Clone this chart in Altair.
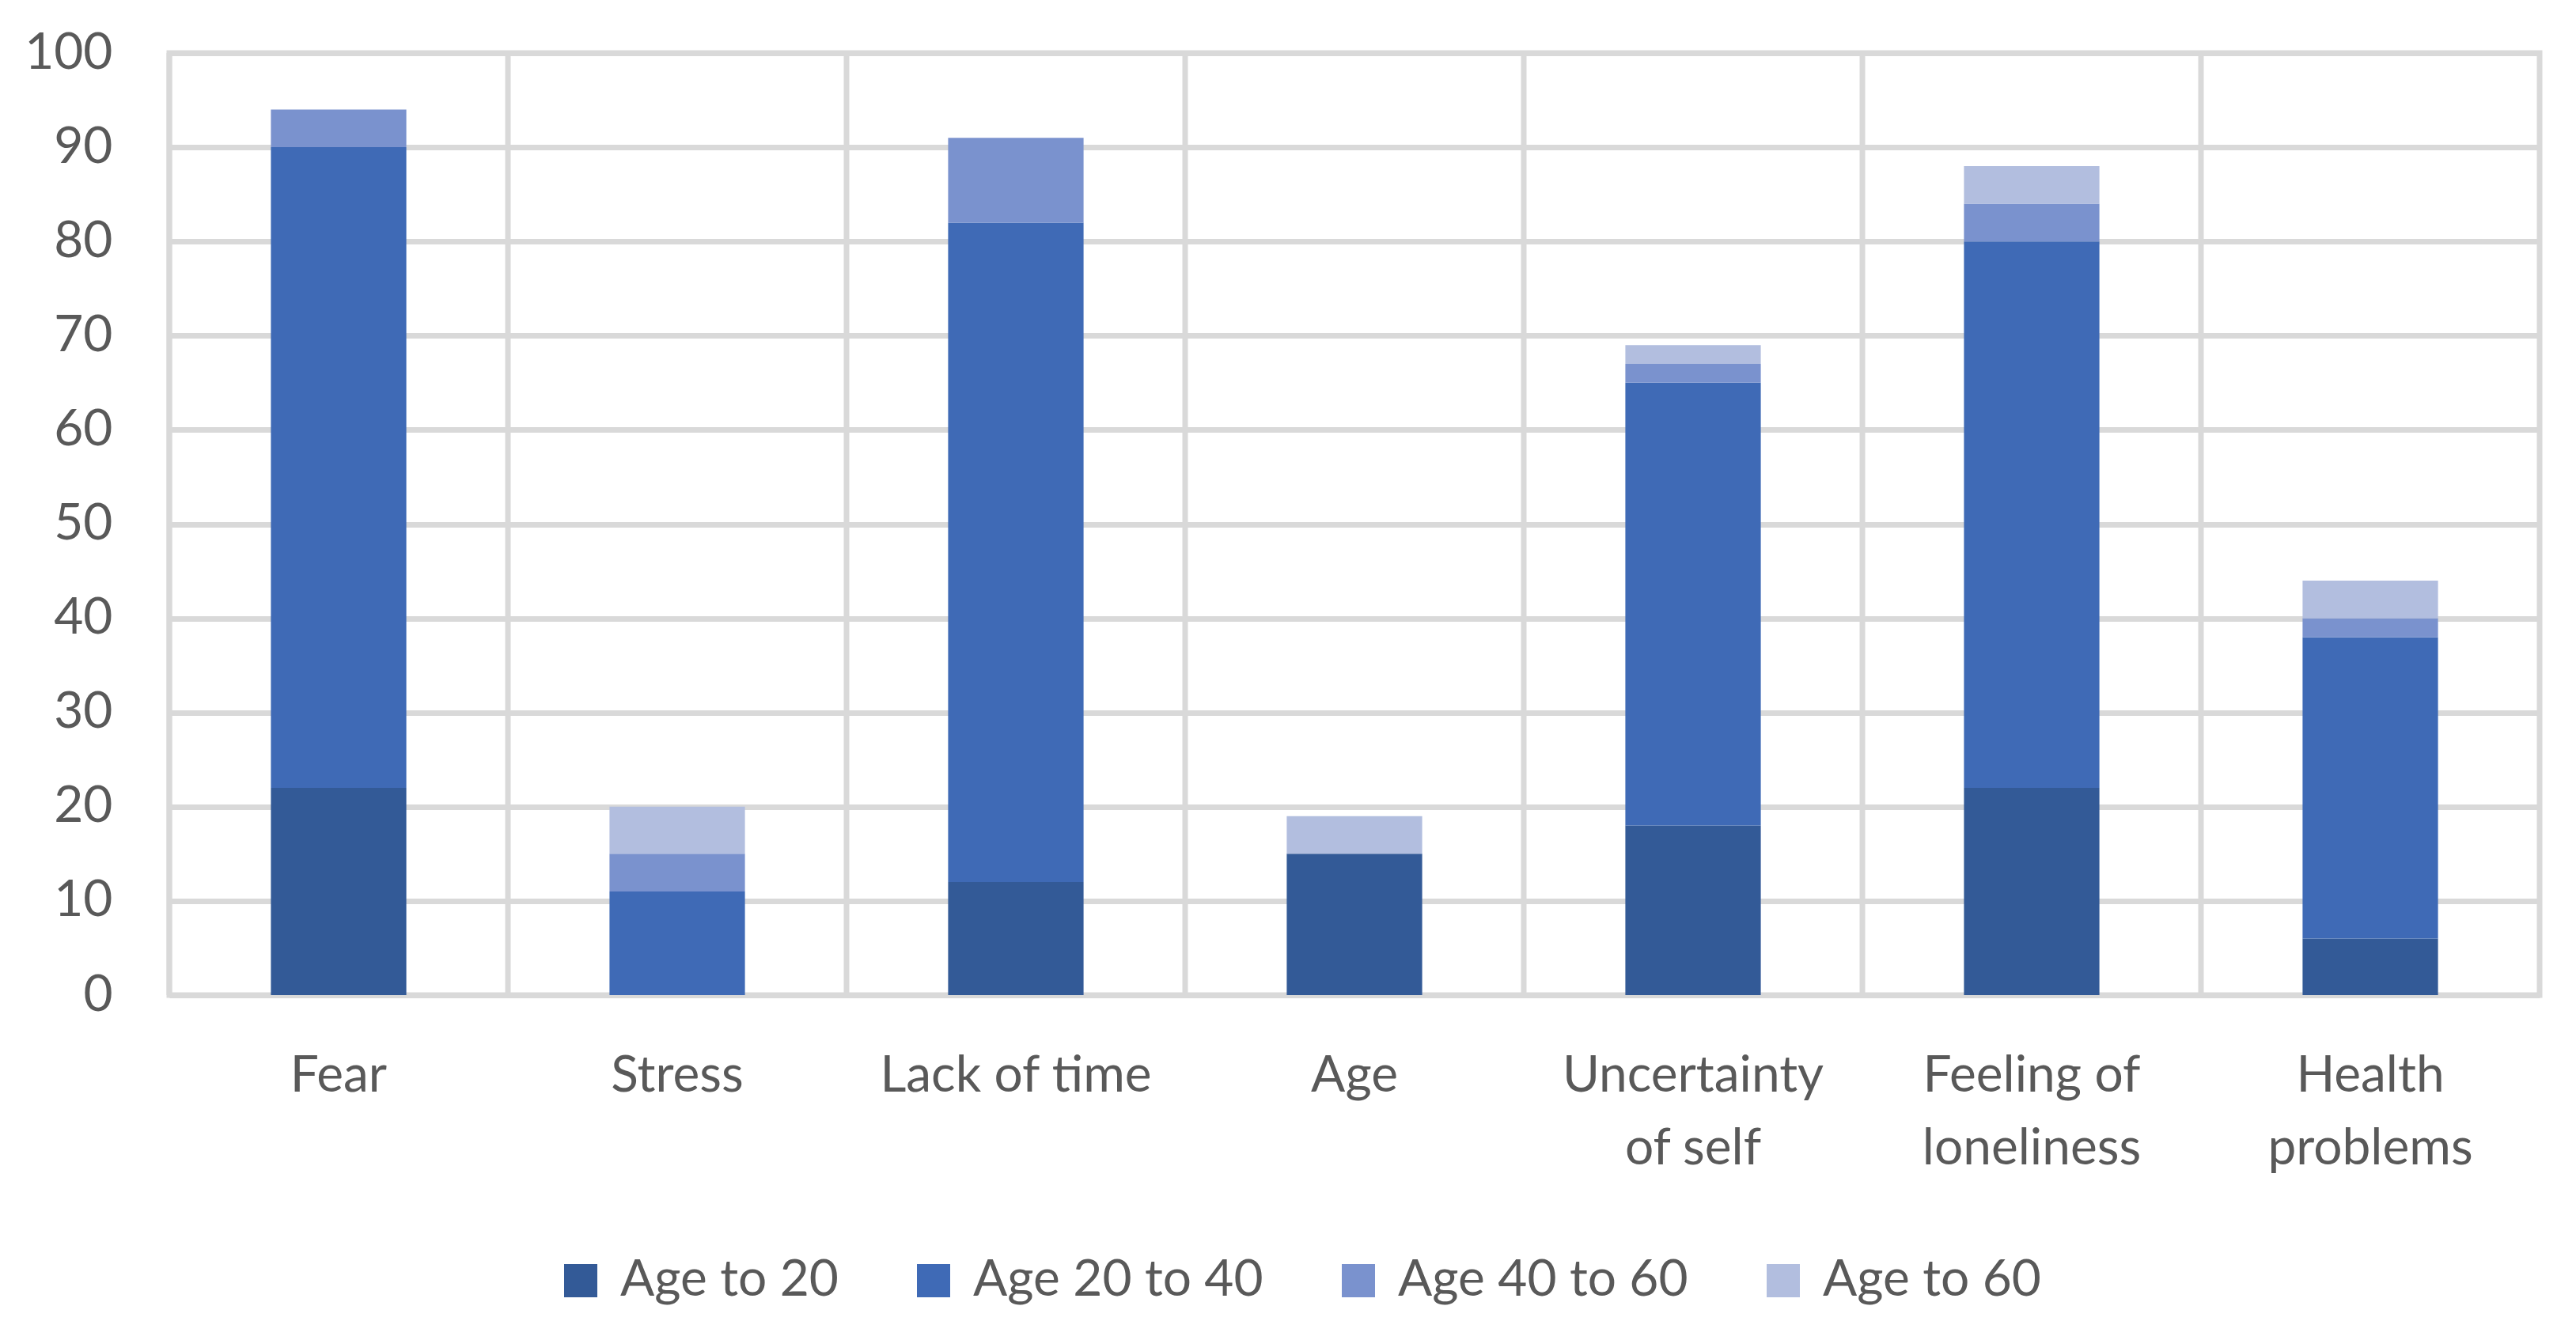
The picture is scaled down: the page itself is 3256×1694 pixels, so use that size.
import altair as alt
import pandas as pd

categories = ["Fear", "Stress", "Lack of time", "Age", "Uncertainty\nof self",
              "Feeling of\nloneliness", "Health\nproblems"]
series = ["Age to 20", "Age 20 to 40", "Age 40 to 60", "Age to 60"]
age_to_20 = [22, 0, 12, 15, 18, 22, 6]
age_20_40 = [68, 11, 70, 0, 47, 58, 32]
age_40_60 = [4, 4, 9, 0, 2, 4, 2]
age_to_60 = [0, 5, 0, 4, 2, 4, 4]
colors = ["#335A97", "#3F6AB6", "#7A92CE", "#B2BEDF"]
y_ticks = list(range(0, 101, 10))

rows = []
for si, (name, vals) in enumerate(zip(series, [age_to_20, age_20_40, age_40_60, age_to_60])):
    for c, v in zip(categories, vals):
        rows.append({"category": c, "series": name, "order": si, "value": v})
df = pd.DataFrame(rows)
cat_df = pd.DataFrame({"category": categories})

FONT = "Lato"
TXT = "#595959"
GRID = "#D9D9D9"
W, H = 2996, 1191
STEP = W / len(categories)

x_enc = alt.X("category:N", sort=categories, title=None,
              scale=alt.Scale(paddingInner=0.6, paddingOuter=0.3),
              axis=alt.Axis(labelAngle=0, labelExpr="split(datum.label, '\\n')",
                            labelFontSize=64, labelColor=TXT, labelFont=FONT,
                            labelLineHeight=92, labelPadding=70, labelBaseline="top",
                            labelLimit=2000,
                            ticks=False, tickSize=0, domain=False, grid=False))

vgrid = alt.Chart(cat_df).mark_rule(color=GRID, strokeWidth=7, xOffset=-STEP / 2).encode(
    x=x_enc
)

bars = alt.Chart(df).mark_bar().encode(
    x=x_enc,
    y=alt.Y("value:Q", stack="zero", title=None,
            scale=alt.Scale(domain=[0, 100], nice=False),
            axis=alt.Axis(values=y_ticks, labelFontSize=64, labelColor=TXT, labelFont=FONT,
                          labelPadding=72, ticks=False, tickSize=0, domain=False,
                          grid=True, gridColor=GRID, gridWidth=7)),
    color=alt.Color("series:N", sort=series,
                    scale=alt.Scale(domain=series, range=colors),
                    legend=alt.Legend(title=None, orient="none", legendX=488, legendY=1520,
                                      direction="horizontal", columns=4,
                                      symbolType="square", symbolSize=1764,
                                      symbolStrokeWidth=0, labelFontSize=64,
                                      labelFont=FONT, labelColor=TXT, labelOffset=18,
                                      labelLimit=2000, columnPadding=88)),
    order=alt.Order("order:Q", sort="ascending"),
)

chart = alt.layer(vgrid, bars).properties(
    width=W, height=H,
    autosize=alt.AutoSizeParams(type="none"),
    padding={"left": 206, "top": 59, "right": 38, "bottom": 428},
    background="white",
).configure_view(stroke=GRID, strokeWidth=7)

chart.save("out.html", embed_options={"renderer": "svg", "actions": False})
